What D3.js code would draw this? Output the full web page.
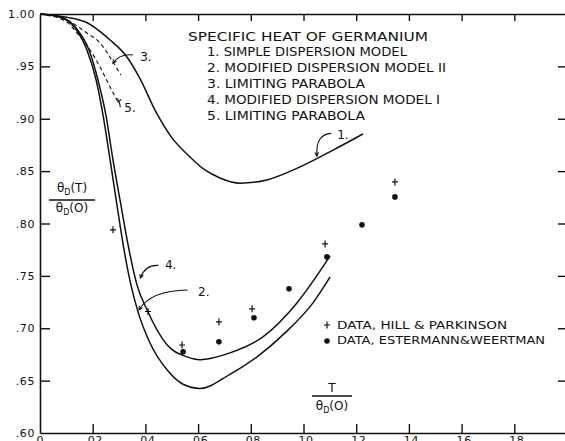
<!DOCTYPE html>
<html><head><meta charset="utf-8">
<script src="https://cdn.jsdelivr.net/npm/d3@7/dist/d3.min.js"></script>
<style>
body{margin:0;background:#fff;}
svg{display:block;}
text{font-family:"DejaVu Sans",sans-serif;fill:#111;}
</style></head>
<body>
<svg id="c" width="565" height="441"></svg>
<script>
// ---- data ----
const xTicks = [0, .02, .04, .06, .08, .10, .12, .14, .16, .18];
const xTickLabels = ["0", ".02", ".04", ".06", ".08", ".10", ".12", ".14", ".16", ".18"];
const yTicks = [.60, .65, .70, .75, .80, .85, .90, .95, 1.00];
const yTickLabels = [".60", ".65", ".70", ".75", ".80", ".85", ".90", ".95", "1.00"];

// Curve 1: simple dispersion model
const curve1 = [[0,1.0],[.0163,.9933],[.0266,.9752],[.0330,.9590],[.0380,.9380],[.0440,.9065],
  [.0501,.8817],[.0569,.8636],[.0626,.8511],[.0683,.8435],[.0759,.8385],[.0861,.8416],[.0987,.8540],
  [.1112,.8700],[.1226,.8855]];
// Curve 2: modified dispersion model II
const curve2 = [[0,1.0],[.0076,.9971],[.0133,.9866],[.0178,.9656],[.0213,.9370],[.0239,.9036],
  [.0266,.8607],[.0292,.8177],[.0319,.7748],[.0345,.7414],[.0372,.7156],[.0417,.6861],[.0482,.6603],
  [.0543,.6465],[.0607,.6425],[.0721,.6560],[.0824,.6727],[.0930,.6956],[.1036,.7242],[.1101,.7490]];
// Curve 3: limiting parabola (dashed)
const curve3 = [[0,1.0],[.0102,.9943],[.0178,.9819],[.0228,.9723],[.0277,.9542],[.0307,.9418]];
// Curve 4: modified dispersion model I
const curve4 = [[0,1.0],[.0076,.9971],[.0137,.9866],[.0186,.9656],[.0220,.9370],[.0250,.9036],
  [.0277,.8607],[.0307,.8177],[.0338,.7748],[.0368,.7414],[.0406,.7176],[.0482,.6842],[.0558,.6727],
  [.0607,.6700],[.0721,.6765],[.0846,.6918],[.0975,.7242],[.1101,.7691]];
// Curve 5: limiting parabola (dashed)
const curve5 = [[0,1.0],[.0102,.9924],[.0140,.9819],[.0190,.9656],[.0228,.9494],[.0266,.9303],[.0296,.9160]];

// Data, Hill & Parkinson (+)
const hillParkinson = [[.0277,.794],[.0410,.716],[.0539,.684],[.0679,.706],[.0805,.7185],[.1082,.7805],[.1347,.8397]];
// Data, Estermann & Weertman (dots)
const estermannWeertman = [[.0543,.6775],[.0679,.687],[.0812,.710],[.0945,.7376],[.1089,.7681],[.1222,.7987],[.1347,.8254]];

const titleText = "SPECIFIC HEAT OF GERMANIUM";
const legendLines = ["1. SIMPLE DISPERSION MODEL","2. MODIFIED DISPERSION MODEL II","3. LIMITING PARABOLA",
  "4. MODIFIED DISPERSION MODEL I","5. LIMITING PARABOLA"];
const dataLegend = ["DATA, HILL & PARKINSON","DATA, ESTERMANN&WEERTMAN"];

// ---- drawing ----
const svg = d3.select("#c");
const x = d3.scaleLinear().domain([0, 0.2]).range([40, 567]);
const y = d3.scaleLinear().domain([0.6, 1.0]).range([433, 14]);

function styleAxis(g){
  g.selectAll(".domain").attr("stroke","#111").attr("stroke-width",1.6);
  g.selectAll(".tick line").attr("stroke","#111").attr("stroke-width",1.4);
  g.selectAll("text").attr("fill","#111").style("font-family","DejaVu Sans, sans-serif");
}
// left
svg.append("g").attr("transform",`translate(${x(0)},0)`)
  .call(d3.axisLeft(y).tickValues(yTicks.slice(1)).tickSizeInner(-10).tickSizeOuter(0).tickPadding(5)
    .tickFormat(d=>yTickLabels[yTicks.indexOf(d)]))
  .call(styleAxis).call(g=>g.selectAll("text").attr("font-size",11).attr("letter-spacing","0.6px"))
  .call(g=>g.selectAll(".tick").filter(d=>d===1.0).select("line").remove());
svg.append("text").attr("x",x(0)-5).attr("y",y(0.6)).attr("dy","0.32em").attr("text-anchor","end")
  .attr("font-size",11).attr("letter-spacing","0.6px").text(yTickLabels[0]);
// right
svg.append("g").attr("transform",`translate(${x(0.2)},0)`)
  .call(d3.axisRight(y).tickValues(yTicks.slice(1,-1)).tickSizeInner(-9).tickSizeOuter(0).tickFormat(""))
  .call(styleAxis);
// bottom
svg.append("g").attr("transform",`translate(0,${y(0.6)})`)
  .call(d3.axisBottom(x).tickValues(xTicks.slice(1)).tickSizeInner(-9).tickSizeOuter(0).tickPadding(3)
    .tickFormat(d=>xTickLabels[xTicks.indexOf(d)]))
  .call(styleAxis).call(g=>g.selectAll("text").attr("font-size",11).attr("letter-spacing","0.6px"));
svg.append("text").attr("x",x(0)).attr("y",y(0.6)+3).attr("dy","0.71em").attr("text-anchor","middle")
  .attr("font-size",11).text(xTickLabels[0]);
// top
svg.append("g").attr("transform",`translate(0,${y(1.0)})`)
  .call(d3.axisTop(x).tickValues(xTicks.slice(1)).tickSizeInner(-7).tickSizeOuter(0).tickFormat(""))
  .call(styleAxis);

// curves
const line = d3.line().x(d=>x(d[0])).y(d=>y(d[1])).curve(d3.curveMonotoneX);
[curve1, curve2, curve4].forEach(c=>{
  svg.append("path").datum(c).attr("d",line).attr("fill","none").attr("stroke","#111").attr("stroke-width",1.5);
});
[curve3, curve5].forEach(c=>{
  svg.append("path").datum(c).attr("d",line).attr("fill","none").attr("stroke","#111")
    .attr("stroke-width",1.1).attr("stroke-dasharray","4,3");
});

// data points
svg.append("g").selectAll("path").data(hillParkinson).join("path")
  .attr("transform",d=>`translate(${x(d[0])},${y(d[1])})`)
  .attr("d","M-3,0H3M0,-3.5V3.5").attr("stroke","#111").attr("stroke-width",1.2).attr("fill","none");
svg.append("g").selectAll("circle").data(estermannWeertman).join("circle")
  .attr("cx",d=>x(d[0])).attr("cy",d=>y(d[1])).attr("r",2.8).attr("fill","#111");

// title / legend block
svg.append("text").attr("x",188).attr("y",37).attr("dy","0.35em").attr("font-size",12.5)
  .attr("textLength",240).attr("lengthAdjust","spacingAndGlyphs").text(titleText);
const legW = [200, 239, 158, 233, 158];
legendLines.forEach((t,i)=>{
  svg.append("text").attr("x",207).attr("y",52+i*16).attr("dy","0.35em").attr("font-size",12)
    .attr("textLength",legW[i]).attr("lengthAdjust","spacingAndGlyphs").text(t);
});

// data legend
const lx = 327;
svg.append("path").attr("transform",`translate(${lx},${325})`).attr("d","M-3,0H3M0,-3.5V3.5")
  .attr("stroke","#111").attr("stroke-width",1.2);
svg.append("circle").attr("cx",lx).attr("cy",341).attr("r",2.8).attr("fill","#111");
svg.append("text").attr("x",337).attr("y",325).attr("dy","0.35em").attr("font-size",11)
  .attr("textLength",170).attr("lengthAdjust","spacingAndGlyphs").text(dataLegend[0]);
svg.append("text").attr("x",337).attr("y",340).attr("dy","0.35em").attr("font-size",11)
  .attr("textLength",208).attr("lengthAdjust","spacingAndGlyphs").text(dataLegend[1]);

// axis labels (fractions)
function frac(cx, cy, numOff, denOff, num, barW){
  const g = svg.append("g");
  const n = g.append("text").attr("x",cx).attr("y",cy-numOff).attr("text-anchor","middle").attr("font-size",12);
  num(n);
  g.append("line").attr("x1",cx-barW/2).attr("x2",cx+barW/2).attr("y1",cy).attr("y2",cy)
    .attr("stroke","#111").attr("stroke-width",1.4);
  const d = g.append("text").attr("x",cx).attr("y",cy+denOff).attr("text-anchor","middle").attr("font-size",12);
  d.append("tspan").text("θ");
  d.append("tspan").attr("font-size",8).attr("dy",3).text("D");
  d.append("tspan").attr("dy",-3).text("(O)");
}
frac(72, 200, 8, 12, t=>{ t.append("tspan").text("θ"); t.append("tspan").attr("font-size",8).attr("dy",3).text("D");
  t.append("tspan").attr("dy",-3).text("(T)"); }, 46);
frac(332, 396, 4, 14, t=>{ t.text("T"); }, 40);

// curve annotations (positions in data units)
const ann = svg.append("g").attr("fill","none").attr("stroke","#111").attr("stroke-width",1.1);
function leader(pts, tip){
  const p = d3.path();
  p.moveTo(x(pts[0][0]),y(pts[0][1]));
  p.quadraticCurveTo(x(pts[1][0]),y(pts[1][1]),x(tip[0]),y(tip[1]));
  ann.append("path").attr("d",p.toString());
  const tx=x(tip[0]), ty=y(tip[1]);
  const ang=Math.atan2(ty-y(pts[1][1]), tx-x(pts[1][0]));
  const a1=ang+Math.PI*0.85, a2=ang-Math.PI*0.85, L=4;
  ann.append("path").attr("d",`M${tx+L*Math.cos(a1)},${ty+L*Math.sin(a1)}L${tx},${ty}L${tx+L*Math.cos(a2)},${ty+L*Math.sin(a2)}`);
}
const labelData = [
  {t:"3.", p:[.0380,.959], path:[[.0352,.961],[.0300,.962]], tip:[.0277,.953]},
  {t:"5.", p:[.0320,.910], path:[[.0305,.911],[.0300,.918]], tip:[.0297,.916]},
  {t:"1.", p:[.1128,.8845], path:[[.1105,.886],[.1045,.885]], tip:[.1051,.8645]},
  {t:"4.", p:[.0474,.7605], path:[[.0450,.7600],[.0400,.7610]], tip:[.0381,.7480]},
  {t:"2.", p:[.0600,.7347], path:[[.0560,.7365],[.0420,.7360]], tip:[.0376,.7176]}
];
labelData.forEach(l=>{
  svg.append("text").attr("x",x(l.p[0])).attr("y",y(l.p[1])).attr("dy","0.35em").attr("font-size",12).text(l.t);
  leader(l.path, l.tip);
});
</script>
</body></html>
